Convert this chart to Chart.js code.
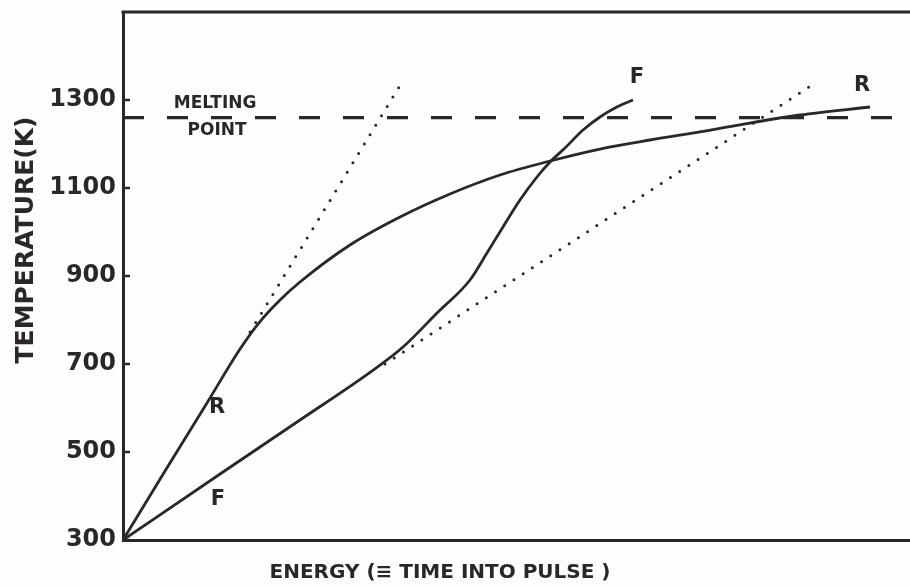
<!DOCTYPE html>
<html><head><meta charset="utf-8">
<script src="https://cdn.jsdelivr.net/npm/chart.js@4/dist/chart.umd.min.js"></script>
<style>html,body{margin:0;padding:0;background:#fdfdfb;} canvas{display:block}</style>
</head><body>
<canvas id="c" width="910" height="587"></canvas>
<script>
// ---- data ----
const yTicks = [300, 500, 700, 900, 1100, 1300];

// R curve
const rEnergy = [0, 5.34, 10.67, 14.87, 17.15, 19.95, 22.49, 28.84, 35.20, 41.55, 47.90, 54.26, 60.61, 66.96, 73.32, 79.67, 86.02, 94.92];
const rTemp   = [300, 456.8, 611.4, 734.1, 790.9, 845.5, 886.4, 970.5, 1034.1, 1086.4, 1129.5, 1161.4, 1188.6, 1209.1, 1227.3, 1247.7, 1265.9, 1284.1];

// F curve
const fEnergy = [0, 12.71, 22.49, 31.39, 35.58, 39.90, 44.09, 46.25, 48.28, 50.44, 52.60, 54.26, 56.16, 58.45, 60.61, 62.52, 64.80];
const fTemp   = [300, 454.5, 572.7, 681.0, 738.6, 815.9, 890.9, 952.3, 1011.4, 1072.7, 1125.0, 1159.1, 1190.9, 1231.8, 1261.4, 1281.8, 1300.0];

// dotted initial-slope extrapolations
const rTangentEnergy = [16.14, 35.07];
const rTangentTemp   = [772.7, 1329.5];
const fTangentEnergy = [33.29, 87.55];
const fTangentTemp   = [700, 1334.1];

// melting point
const meltingPoint = 1260;
const meltingEnergy = [0, 98];

// curve labels (text, energy, temperature)
const noteText   = ['R', 'F', 'F', 'R'];
const noteEnergy = [11.94, 12.07, 65.31, 93.90];
const noteTemp   = [600, 393, 1352, 1332];

const INK = '#2b2726';
const FONT = '"DejaVu Sans", sans-serif';

function pts(xs, ys) { return xs.map((x, i) => ({x: x, y: ys[i]})); }

const extras = {
  id: 'extras',
  afterDraw(chart) {
    const {ctx, chartArea: a, scales: {x, y}} = chart;
    ctx.save();
    ctx.strokeStyle = INK;
    ctx.fillStyle = INK;
    // top frame line
    ctx.lineWidth = 3;
    ctx.beginPath();
    ctx.moveTo(a.left - 1.5, a.top);
    ctx.lineTo(a.right, a.top);
    ctx.stroke();
    // inward tick marks on the temperature axis
    ctx.lineWidth = 2.5;
    yTicks.forEach(v => {
      const py = y.getPixelForValue(v);
      ctx.beginPath();
      ctx.moveTo(a.left, py);
      ctx.lineTo(a.left + 7, py);
      ctx.stroke();
    });
    ctx.textAlign = 'center';
    ctx.textBaseline = 'middle';
    // R / F labels
    ctx.font = 'bold 21px ' + FONT;
    noteText.forEach((t, i) => {
      ctx.fillText(t, x.getPixelForValue(noteEnergy[i]), y.getPixelForValue(noteTemp[i]));
    });
    // melting point label
    ctx.font = 'bold 17px ' + FONT;
    ctx.fillText('MELTING', x.getPixelForValue(11.7), y.getPixelForValue(meltingPoint) - 14);
    ctx.fillText('POINT', x.getPixelForValue(11.95), y.getPixelForValue(meltingPoint) + 13);
    // axis titles
    ctx.font = 'bold 20px ' + FONT;
    ctx.fillText('ENERGY (\u2261 TIME INTO PULSE )', 440, 573);
    ctx.save();
    ctx.translate(26, 240);
    ctx.rotate(-Math.PI / 2);
    ctx.font = 'bold 25px ' + FONT;
    ctx.fillText('TEMPERATURE(K)', 0, 0);
    ctx.restore();
    ctx.restore();
  }
};

const solid = {borderColor: INK, borderWidth: 2.8, pointRadius: 0, fill: false, cubicInterpolationMode: 'monotone'};
const dotted = {borderColor: INK, borderWidth: 3, pointRadius: 0, fill: false, borderDash: [0, 11], borderCapStyle: 'round'};

new Chart(document.getElementById('c'), {
  type: 'line',
  data: {
    datasets: [
      Object.assign({label: 'Melting point', data: pts(meltingEnergy, meltingEnergy.map(() => meltingPoint))},
        {borderColor: INK, borderWidth: 3.2, pointRadius: 0, fill: false, borderDash: [21, 23]}),
      Object.assign({label: 'R', data: pts(rEnergy, rTemp)}, solid),
      Object.assign({label: 'F', data: pts(fEnergy, fTemp)}, solid),
      Object.assign({label: 'R slope', data: pts(rTangentEnergy, rTangentTemp)}, dotted),
      Object.assign({label: 'F slope', data: pts(fTangentEnergy, fTangentTemp)}, dotted)
    ]
  },
  options: {
    responsive: false,
    animation: false,
    layout: {padding: {top: 12, left: 0, right: 0, bottom: 0}},
    plugins: {legend: {display: false}, tooltip: {enabled: false}},
    scales: {
      x: {
        type: 'linear', min: 0, max: 100,
        ticks: {display: false},
        grid: {display: false, drawTicks: false},
        border: {display: true, color: INK, width: 3},
        afterFit(s) { s.height = 47; s.paddingLeft = 0; s.paddingRight = 0; }
      },
      y: {
        type: 'linear', min: 300, max: 1500,
        afterBuildTicks(s) { s.ticks = yTicks.map(v => ({value: v})); },
        ticks: {color: INK, font: {family: FONT, size: 24, weight: 'bold'}, padding: 7,
                callback: v => String(v)},
        grid: {display: false, drawTicks: false},
        border: {display: true, color: INK, width: 3},
        afterFit(s) { s.width = 123; s.paddingTop = 0; s.paddingBottom = 0; }
      }
    }
  },
  plugins: [extras]
});
</script>
</body></html>
